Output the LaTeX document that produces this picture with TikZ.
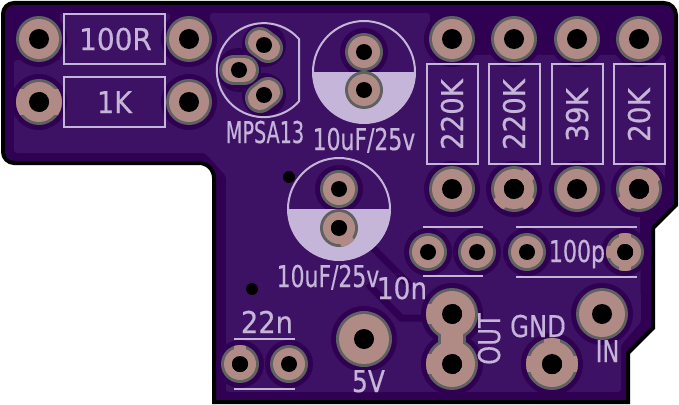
\documentclass[tikz,border=0pt]{standalone}
\usepackage{graphicx}
\usepackage{fontspec}
\setmainfont{DejaVu Sans}
\newfontfamily\silkfont[FakeBold=0.5]{DejaVu Sans}
\definecolor{pcbdark}{HTML}{300052}
\definecolor{pcblight}{HTML}{3D1264}
\definecolor{silk}{HTML}{C5B5D8}
\definecolor{copper}{HTML}{B08B85}
\definecolor{ringgray}{HTML}{5F6060}
\tikzset{
  silkline/.style={draw=silk,line width=2pt},
  silktext/.style={text=silk,inner sep=0pt,anchor=base,font=\silkfont\fontsize{30}{30}\selectfont},
  haloline/.style={draw=pcbdark,line width=7pt}
}
% x y copper-radius hole-radius
\newcommand{\padhalo}[3]{\fill[pcbdark] (#1,#2) circle[radius=#3+8];}
\newcommand{\padbody}[4]{%
  \fill[ringgray] (#1,#2) circle[radius=#3+3];
  \fill[copper] (#1,#2) circle[radius=#3];
  \fill[black] (#1,#2) circle[radius=#4];}
% x y copper-radius hole-radius angle width
\newcommand{\padspoke}[6]{%
  \begin{scope}
  \clip (#1,#2) circle[radius=#3+3];
  \draw[copper,line width=#6pt] (#1,#2) -- ++(#5:#3+4);
  \end{scope}
  \fill[black] (#1,#2) circle[radius=#4];}
% x y dx dy : oval pad
\newcommand{\ovalpad}[4]{%
  \draw[ringgray,line width=30pt,line cap=round] (#1-#3,#2-#4) -- (#1+#3,#2+#4);
  \draw[copper,line width=24pt,line cap=round] (#1-#3,#2-#4) -- (#1+#3,#2+#4);
  \fill[black] (#1,#2) circle[radius=8];}
\begin{document}
\begin{tikzpicture}[x=1pt,y=-1pt]
\useasboundingbox (0,0) rectangle (679,404);
\fill[white] (0,0) rectangle (679,404);
% board
\draw[fill=pcbdark,draw=black,line width=4pt,line join=miter]
  (14,3) -- (664,3) arc[start angle=-90,end angle=0,radius=12] -- (676,205) -- (653,228)
  -- (653,328) -- (628,353) -- (628,402) -- (214,402) -- (214,178)
  arc[start angle=0,end angle=-90,radius=15] -- (14,163)
  arc[start angle=90,end angle=180,radius=11] -- (3,14)
  arc[start angle=180,end angle=270,radius=11] -- cycle;
% copper zone
\fill[pcblight,rounded corners=3pt]
  (14,60) -- (210,60) -- (210,13) -- (430,13) -- (430,55) -- (665,55) -- (665,190)
  -- (640,215) -- (641,322) -- (621,345) -- (621,392) -- (226,392) -- (226,176)
  -- (205,153) -- (14,153) -- cycle;
\fill[pcblight] (60,14) rectangle (170,60);
% channels in the zone
\draw[haloline] (365,240) -- (412,287);
\draw[haloline] (368,284) -- (401,318) -- (430,318);
% halos
\foreach \x/\y/\r in {39/39/20,189/39/20,39/102/20,189/102/20,
  264/45/14,239/70/14,264/95/14,364/52/16,364/90/16,339/189/16,339/228/16,
  452/39/20,514/39/20,577/39/20,639/39/20,452/189/20,514/189/20,577/189/20,639/189/20,
  428/252/16,477/252/16,527/252/16,625/252/16,
  452/314/23,452/364/23,552/364/23,602/314/23,364/339/25,240/364/16,289/364/16}
  {\padhalo{\x}{\y}{\r}}
% silkscreen outlines
\draw[silkline] (64,14) rectangle (165,64);
\draw[silkline] (64,77) rectangle (165,127);
\foreach \x in {427,489,552,614} \draw[silkline] (\x,64) rectangle (\x+51,164);
\draw[silkline] (299,39) arc[start angle=-41.5,end angle=-318.5,radius=47] -- cycle;
\fill[silk] (313,72) -- (415,72) arc[start angle=0,end angle=180,radius=51] -- cycle;
\draw[silkline] (364,72) circle[radius=51];
\fill[silk] (288,209) -- (390,209) arc[start angle=0,end angle=180,radius=51] -- cycle;
\draw[silkline] (339,209) circle[radius=51];
\foreach \xa/\xb/\ya in {423/483/227,423/483/276,516/637/227,516/637/277,234/295/339,234/295/389}
  \draw[silkline] (\xa,\ya) -- (\xb,\ya);
% vias
\fill[black] (289,177) circle[radius=6];
\fill[black] (252,289) circle[radius=6];
% round pads
\foreach \x/\y in {39/39,189/39,39/102,189/102,452/39,514/39,577/39,639/39,452/189,514/189,577/189,639/189}
  {\padbody{\x}{\y}{20}{10}}
\foreach \x/\y in {364/52,364/90,339/189,339/228,428/252,477/252,527/252,625/252,240/364,289/364}
  {\padbody{\x}{\y}{16}{8}}
\foreach \x/\y in {602/314,552/364}
  {\padbody{\x}{\y}{23}{10}}
\padbody{364}{339}{25}{10}
% transistor pads
\ovalpad{264}{45}{4}{3}
\ovalpad{239}{70}{5}{0}
\ovalpad{264}{95}{-4}{3}
% joined OUT pads
\draw[ringgray,line width=28pt] (452,314) -- (452,364);
\padbody{452}{314}{23}{10}
\padbody{452}{364}{23}{10}
\draw[copper,line width=22pt] (452,314) -- (452,364);
\fill[black] (452,314) circle[radius=10];
\fill[black] (452,364) circle[radius=10];
\padspoke{452}{314}{23}{10}{180}{20}
\padspoke{452}{364}{23}{10}{180}{20}
% thermal spokes
\foreach \a in {0,180} {\padspoke{39}{102}{20}{10}{\a}{26}}
\foreach \a in {-45,135,45} {\padspoke{514}{189}{20}{10}{\a}{14}}
\foreach \a in {-45,135} {\padspoke{639}{189}{20}{10}{\a}{16}}
\foreach \a in {90,-90,180} {\padspoke{625}{252}{16}{8}{\a}{12}}
\foreach \a in {0,180,-90} {\padspoke{552}{364}{23}{10}{\a}{16}}
\padspoke{339}{228}{16}{8}{60}{14}
\padspoke{240}{364}{16}{8}{-90}{12}
% texts
\node[silktext] (t100r) at (115.5,50) {\scalebox{.93}[1]{100R}};
\node[silktext] (t1k) at (114.5,113) {\scalebox{.9}[1]{1K}};
\node[silktext] (tmpsa) at (265,143) {\scalebox{.64}[1]{MPSA13}};
\node[silktext] (tcapa) at (364,150) {\scalebox{.73}[1]{10uF/25v}};
\node[silktext] (tcapb) at (328,287) {\scalebox{.73}[1]{10uF/25v}};
\node[silktext] (t10n) at (402,299) {\scalebox{.88}[1]{10n}};
\node[silktext] (t22n) at (267,333) {\scalebox{.91}[1]{22n}};
\node[silktext] (t5v) at (368.5,392) {\scalebox{.83}[1]{5V}};
\node[silktext] (tgnd) at (538,337) {\scalebox{.81}[1]{GND}};
\node[silktext] (tin) at (607.5,362) {\scalebox{.75}[1]{IN}};
\node[silktext] (t100p) at (577,262) {\scalebox{.735}[1]{100p}};
\node[silktext,rotate=90] (tout) at (500,339) {\scalebox{.81}[1]{OUT}};
\node[silktext,rotate=90] (tra) at (463,114.5) {\scalebox{.92}[1]{220K}};
\node[silktext,rotate=90] (trb) at (525,114.5) {\scalebox{.92}[1]{220K}};
\node[silktext,rotate=90] (trc) at (588,115) {\scalebox{.93}[1]{39K}};
\node[silktext,rotate=90] (trd) at (650,115) {\scalebox{.93}[1]{20K}};
\end{tikzpicture}
\end{document}
